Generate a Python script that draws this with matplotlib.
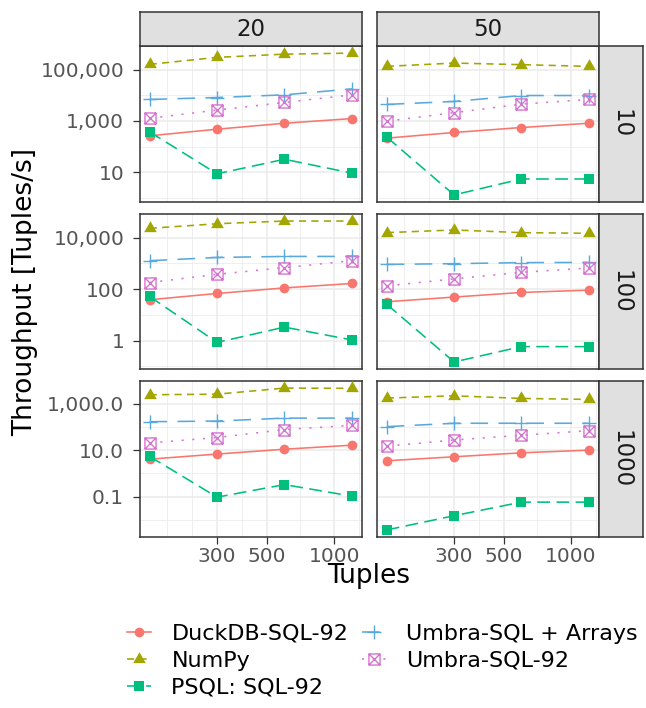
import numpy as np
import matplotlib
matplotlib.use("Agg")
import matplotlib.pyplot as plt
from matplotlib.lines import Line2D
from matplotlib.path import Path

# facets
col_vals = ["20", "50"]
row_vals = ["10", "100", "1000"]

tuples = [150, 300, 600, 1200]
x_breaks = [300, 500, 1000]

# values per system: [row][col][point]
duckdb = [
    [[264, 478, 815, 1240], [215, 356, 556, 815]],
    [[38.8, 68, 112, 166], [32.5, 49.3, 74.6, 91.5]],
    [[4.1, 6.8, 11, 16.4], [3.5, 5.2, 7.7, 10]],
]
numpy_vals = [
    [[160000, 300000, 400000, 440000], [134000, 180000, 156000, 134000]],
    [[22900, 34500, 43900, 43900], [15600, 19800, 15600, 14700]],
    [[2430, 2570, 4700, 4600], [1750, 2190, 1690, 1530]],
]
psql = [
    [[376, 8.75, 32.3, 9.3], [235, 1.32, 5.5, 5.5]],
    [[52, 0.86, 3.37, 1.07], [25.8, 0.15, 0.59, 0.59]],
    [[5.4, 0.095, 0.33, 0.105], [0.0037, 0.0151, 0.058, 0.058]],
]
umbra_arrays = [
    [[6880, 8200, 10400, 17800], [4410, 5760, 9800, 9800]],
    [[1270, 1700, 1860, 1860], [913, 975, 1070, 1090]],
    [[168, 179, 240, 240], [103, 144, 144, 144]],
]
umbra_92 = [
    [[1270, 2660, 5270, 10400], [975, 2110, 4530, 6880]],
    [[181, 377, 683, 1270], [134, 250, 451, 660]],
    [[20.5, 35, 77, 117], [14.8, 27.5, 43.7, 69]],
]

labels = ["DuckDB-SQL-92", "NumPy", "PSQL: SQL-92", "Umbra-SQL + Arrays", "Umbra-SQL-92"]
colors = ["#F8766D", "#A3A500", "#00BF7D", "#5AA9DE", "#D476D0"]

y_breaks = [[10, 1000, 100000], [1, 100, 10000], [0.1, 10, 1000]]
y_labels = [["10", "1,000", "100,000"], ["1", "100", "10,000"], ["0.1", "10.0", "1,000.0"]]

series = [duckdb, numpy_vals, psql, umbra_arrays, umbra_92]

# marker shapes (ggplot 16, 17, 15, 3, 7)
tri = Path([(0, 0.577), (-0.5, -0.289), (0.5, -0.289), (0, 0.577)],
           [Path.MOVETO, Path.LINETO, Path.LINETO, Path.CLOSEPOLY])
sqx = Path([(-1, -1), (1, -1), (1, 1), (-1, 1), (-1, -1),
            (-1, -1), (1, 1), (-1, 1), (1, -1)],
           [Path.MOVETO, Path.LINETO, Path.LINETO, Path.LINETO, Path.CLOSEPOLY,
            Path.MOVETO, Path.LINETO, Path.MOVETO, Path.LINETO])

lw = 1.15
styles = [
    dict(ls="-", marker="o", ms=7, mew=0),
    dict(ls=(0, (4.5, 3.3)), marker=tri, ms=10.5, mew=0),
    dict(ls=(0, (8, 4)), marker="s", ms=7.5, mew=0),
    dict(ls=(0, (11, 6.5)), marker="+", ms=10.5, mew=1.0),
    dict(ls=(0, (1.3, 5.4)), marker=sqx, ms=8, mew=1.0, mfc="none"),
]

W, H = 646, 708
fig = plt.figure(figsize=(W / 100, H / 100), dpi=100)


def fx(px):
    return px / W


def fy(py):
    return 1 - py / H


col_x = [(139.5, 362), (376.7, 598.7)]
row_y = [(46, 202), (214, 369), (381, 537)]
border = "#333333"
gridc = "#EBEBEB"
stripc = "#E0E0E0"

# ggplot-ish minor breaks on log x
lb = np.log10(x_breaks)
ext = np.concatenate([[lb[0] - (lb[1] - lb[0])], lb, [lb[-1] + (lb[1] - lb[0])]])
x_minor = 10 ** ((ext[:-1] + ext[1:]) / 2)
x_minor = np.concatenate([x_minor, [10 ** ext[0]]])

xl = np.log10(tuples)
xpad = 0.05 * (xl.max() - xl.min())
xlim = (10 ** (xl.min() - xpad), 10 ** (xl.max() + xpad))

for r in range(3):
    allv = np.log10([v for s in series for c in range(2) for v in s[r][c]])
    ypad = 0.05 * (allv.max() - allv.min())
    ylim = (10 ** (allv.min() - ypad), 10 ** (allv.max() + ypad))
    yb = np.log10(y_breaks[r])
    y_minor = 10 ** np.arange(yb[0] - 3, yb[-1] + 3, 2.0)
    for c in range(2):
        x0, x1 = col_x[c]
        y0, y1 = row_y[r]
        ax = fig.add_axes([fx(x0), fy(y1), (x1 - x0) / W, (y1 - y0) / H])
        ax.set_xscale("log")
        ax.set_yscale("log")
        for xm in x_minor:
            ax.axvline(xm, color=gridc, lw=0.55, zorder=0)
        for xm in x_breaks:
            ax.axvline(xm, color=gridc, lw=1.1, zorder=0)
        for ym in y_minor:
            ax.axhline(ym, color=gridc, lw=0.55, zorder=0)
        for ym in y_breaks[r]:
            ax.axhline(ym, color=gridc, lw=1.1, zorder=0)
        for s, st, col in zip(series, styles, colors):
            st = dict(st)
            ls = st.pop("ls")
            ax.plot(tuples, s[r][c], color=col, lw=lw, ls=ls, zorder=2)
        for s, st, col in zip(series, styles, colors):
            st = dict(st)
            st.pop("ls")
            mfc = st.pop("mfc", col)
            ax.plot(tuples, s[r][c], ls="none", color=col, mfc=mfc, mec=col, zorder=3, **st)
        ax.set_xlim(xlim)
        ax.set_ylim(ylim)
        ax.set_xticks(x_breaks)
        ax.set_xticks([], minor=True)
        ax.set_yticks(y_breaks[r])
        ax.set_yticks([], minor=True)
        ax.tick_params(length=5, width=0.9, color=border, labelsize=14.5,
                       labelcolor="#555555")
        ax.tick_params(axis="y", pad=6)
        ax.tick_params(axis="x", pad=2)
        if c == 0:
            ax.set_yticklabels(y_labels[r])
        else:
            ax.set_yticklabels([])
            ax.tick_params(axis="y", length=0)
        if r == 2:
            ax.set_xticklabels([str(v) for v in x_breaks])
        else:
            ax.set_xticklabels([])
            ax.tick_params(axis="x", length=0)
        for sp in ax.spines.values():
            sp.set_color(border)
            sp.set_linewidth(1.1)

        if r == 0:
            sax = fig.add_axes([fx(x0), fy(46), (x1 - x0) / W, 34 / H])
            sax.set_facecolor(stripc)
            sax.set_xticks([])
            sax.set_yticks([])
            for sp in sax.spines.values():
                sp.set_color(border)
                sp.set_linewidth(1.1)
            sax.text(0.5, 0.5, col_vals[c], ha="center", va="center",
                     fontsize=16.5, color="#1A1A1A", transform=sax.transAxes)

    y0, y1 = row_y[r]
    rax = fig.add_axes([fx(598.7), fy(y1), 44.3 / W, (y1 - y0) / H])
    rax.set_facecolor(stripc)
    rax.set_xticks([])
    rax.set_yticks([])
    for sp in rax.spines.values():
        sp.set_color(border)
        sp.set_linewidth(1.1)
    rax.text(0.5, 0.5, row_vals[r], ha="center", va="center", rotation=-90,
             fontsize=16.5, color="#1A1A1A", transform=rax.transAxes)

fig.text(fx(25), fy(291.5), "Throughput [Tuples/s]", rotation=90,
         ha="center", va="center", fontsize=19)
fig.text(fx(369), fy(583), "Tuples", ha="center", va="baseline", fontsize=19)

handles = []
for st, col, lab in zip(styles, colors, labels):
    st = dict(st)
    ls = st.pop("ls")
    mfc = st.pop("mfc", col)
    handles.append(Line2D([], [], color=col, lw=lw, ls=ls, mfc=mfc, mec=col,
                          label=lab, **st))

fig.legend(handles=handles, loc="upper left", bbox_to_anchor=(fx(127), fy(624)),
           ncol=2, frameon=False, fontsize=16, borderpad=0, borderaxespad=0,
           handlelength=1.1, handletextpad=0.9, columnspacing=0.6,
           labelspacing=0.3, numpoints=1)

fig.savefig("out.png", dpi=100)
